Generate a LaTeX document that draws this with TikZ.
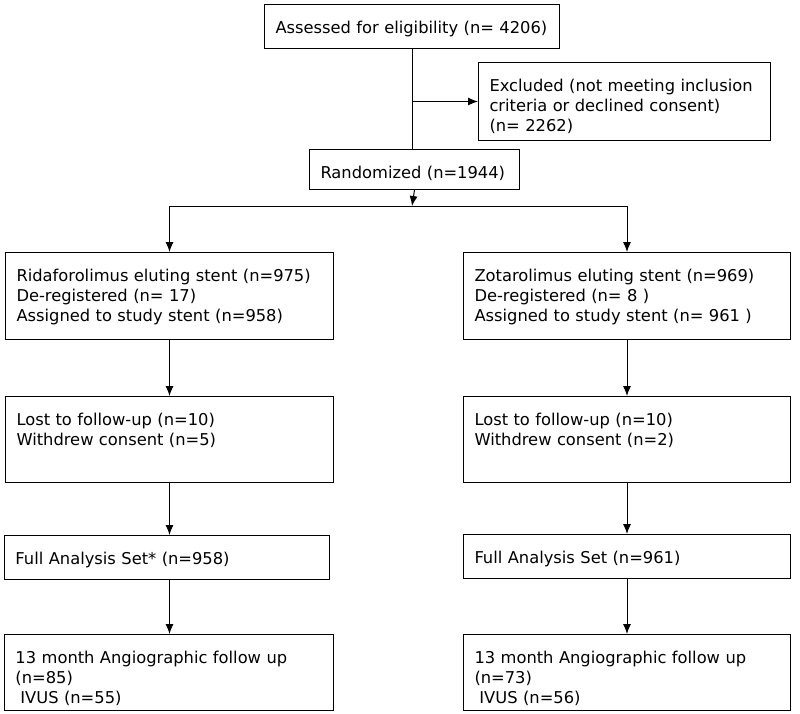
\documentclass[tikz,border=0pt]{standalone}
\usepackage{fontspec}
\setmainfont{DejaVu Sans}
\usetikzlibrary{arrows.meta}

\tikzset{
	stage/.style={draw, line width=1pt, anchor=north west, align=left, inner xsep=11pt, inner ysep=0pt, text height=29pt, font=\fontsize{16.3}{20}\selectfont},
	flow/.style={-{Latex[length=10pt,width=8pt]}, line width=1pt},
	link/.style={line width=1pt}
}

\begin{document}
\begin{tikzpicture}[x=1pt,y=-1pt]
	\useasboundingbox (0,0) rectangle (800,713);

	% enrolment
	\node[stage, text width=273pt, text depth=15pt] (assess) at (264,4) {\mbox{Assessed for eligibility (n= 4206)}};
	\node[stage, text width=270pt, text depth=49pt] (excl) at (478,62) {Excluded (not meeting inclusion\\criteria or declined consent)\\(n= 2262)};
	\node[stage, text width=188pt, text depth=11pt] (rand) at (309,149) {\mbox{Randomized (n=1944)}};

	% left arm
	\node[stage, text width=306pt, text depth=58pt] (ridaf) at (5,252) {Ridaforolimus eluting stent (n=975)\\De-registered (n= 17)\\Assigned to study stent (n=958)};
	\node[stage, text width=306pt, text depth=57pt] (lostL) at (5,396) {Lost to follow-up (n=10)\\Withdrew consent (n=5)};
	\node[stage, text width=303pt, text depth=15pt] (fasL) at (4,535) {Full Analysis Set* (n=958)};
	\node[stage, text width=307pt, text depth=47pt] (angL) at (4,634) {13 month Angiographic follow up\\(n=85)\\\hspace*{0.3em}IVUS (n=55)};

	% right arm
	\node[stage, text width=305pt, text depth=58pt] (zotar) at (463,252) {Zotarolimus eluting stent (n=969)\\De-registered (n= 8 )\\Assigned to study stent (n= 961 )};
	\node[stage, text width=305pt, text depth=57pt] (lostR) at (463,396) {Lost to follow-up (n=10)\\Withdrew consent (n=2)};
	\node[stage, text width=305pt, text depth=15pt] (fasR) at (463,534) {Full Analysis Set (n=961)};
	\node[stage, text width=305pt, text depth=47pt] (angR) at (463,634) {13 month Angiographic follow up\\(n=73)\\\hspace*{0.3em}IVUS (n=56)};

	% connectors
	\coordinate (split) at (412,206);
	\draw[link] (assess.south) -- (assess.south |- rand.north);
	\draw[flow] (assess.south |- excl.west) -- (excl.west);
	\draw[flow] (rand.south) -- (split);
	\draw[link] (split -| ridaf.north) -- (split -| zotar.north);
	\draw[flow] (split -| ridaf.north) -- (ridaf.north);
	\draw[flow] (split -| zotar.north) -- (zotar.north);

	\draw[flow] (ridaf.south) -- (lostL.north);
	\draw[flow] (lostL.south) -- (lostL.south |- fasL.north);
	\draw[flow] (lostL.south |- fasL.south) -- (lostL.south |- angL.north);

	\draw[flow] (zotar.south) -- (lostR.north);
	\draw[flow] (lostR.south) -- (fasR.north);
	\draw[flow] (fasR.south) -- (angR.north);

\end{tikzpicture}
\end{document}
